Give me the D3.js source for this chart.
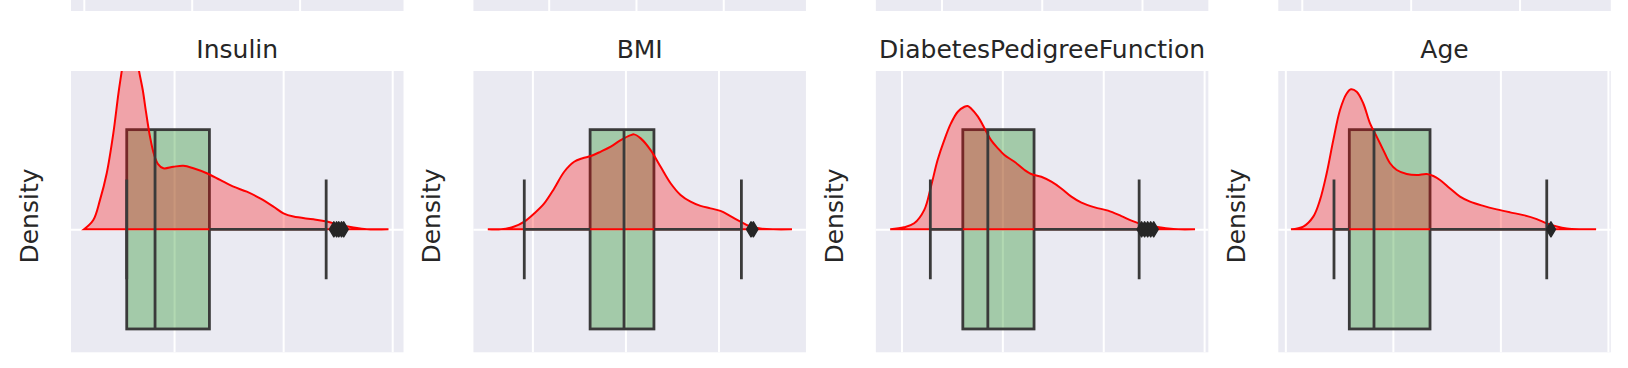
<!DOCTYPE html>
<html><head><meta charset="utf-8">
<script src="https://cdn.jsdelivr.net/npm/d3@7"></script>
<style>body{margin:0;background:#fff}svg{display:block}</style>
</head><body><svg id="c" width="1628" height="368"></svg>
<script>
// ---------- data ----------
const panelNames = ["Insulin", "BMI", "DiabetesPedigreeFunction", "Age"];
const xTicks = [[0, 2, 4], [-2, 0, 2], [0, 0.5, 1, 1.5], [20, 40, 60, 80]];
const xDomains = [[-1.89, 4.207], [-3.267, 3.88], [-0.127, 1.521], [18.69, 80.53]];
// previous (upper) row of subplots, only their bottom edge is visible
const topTicks = [[0, 5, 10], [50, 100, 150], [0, 50, 100], [0, 25, 50]];
const topDomains = [[-0.617, 14.79], [6.57, 197.1], [-33, 132.85], [-5.51, 70.83]];

// KDE curves: [value, density]
const kdeInsulin = [[-1.651,0],[-1.481,0.037],[-1.358,0.118],[-1.235,0.225],[-1.114,0.385],[-1.02,0.546],
 [-0.96,0.635],[-0.881,0.76],[-0.807,0.8],[-0.734,0.76],[-0.642,0.635],[-0.574,0.559],[-0.514,0.47],
 [-0.44,0.37],[-0.367,0.3],[-0.294,0.262],[-0.196,0.245],[-0.013,0.251],[0.171,0.255],[0.354,0.245],
 [0.6,0.225],[0.844,0.198],[1.089,0.171],[1.334,0.151],[1.578,0.124],[1.822,0.091],[2.006,0.064],
 [2.189,0.051],[2.556,0.04],[2.802,0.031],[3.046,0.017],[3.29,0.007],[3.536,0],[3.932,0]];
const kdeBMI = [[-2.958,0],[-2.673,0],[-2.388,0.011],[-2.174,0.031],[-1.959,0.064],[-1.745,0.104],
 [-1.531,0.164],[-1.316,0.231],[-1.102,0.271],[-0.922,0.285],[-0.744,0.294],[-0.529,0.312],[-0.315,0.332],
 [-0.101,0.358],[0.114,0.378],[0.184,0.381],[0.328,0.365],[0.542,0.318],[0.757,0.251],[0.971,0.185],
 [1.185,0.138],[1.4,0.111],[1.614,0.094],[1.829,0.084],[2.043,0.074],[2.257,0.053],[2.472,0.031],
 [2.686,0.011],[2.9,0.003],[3.186,0],[3.58,0]];
const kdeDPF = [[-0.056,0],[0.013,0.008],[0.063,0.024],[0.113,0.078],[0.146,0.171],[0.179,0.278],
 [0.212,0.358],[0.245,0.425],[0.279,0.472],[0.312,0.492],[0.328,0.495],[0.345,0.485],[0.379,0.452],
 [0.412,0.405],[0.444,0.358],[0.478,0.325],[0.51,0.298],[0.56,0.271],[0.61,0.238],[0.643,0.222],
 [0.693,0.211],[0.743,0.191],[0.792,0.164],[0.842,0.131],[0.892,0.107],[0.958,0.088],[1.024,0.075],
 [1.09,0.053],[1.14,0.035],[1.19,0.021],[1.256,0.011],[1.323,0.003],[1.372,0],[1.455,0]];
const kdeAge = [[21.05,0],[23.34,0.011],[25.2,0.051],[26.45,0.118],[27.69,0.225],[28.92,0.358],
 [30.17,0.479],[31.41,0.545],[32.21,0.562],[33.27,0.552],[34.5,0.505],[35.75,0.425],[36.99,0.372],
 [38.22,0.318],[39.47,0.265],[40.72,0.238],[42.58,0.222],[44.44,0.218],[46.3,0.222],[47.53,0.214],
 [48.77,0.198],[50.63,0.164],[52.49,0.131],[54.35,0.111],[56.83,0.094],[59.32,0.08],[61.8,0.068],
 [64.27,0.057],[66.76,0.041],[68.62,0.024],[70.48,0.011],[72.34,0.003],[74.82,0],[77.8,0]];
const kdes = [kdeInsulin, kdeBMI, kdeDPF, kdeAge];

// box statistics: [lowWhisker, q1, median, q3, highWhisker]
const boxInsulin = [-0.868, -0.868, -0.349, 0.648, 2.789];
const boxBMI = [-2.174, -0.759, -0.03, 0.613, 2.493];
const boxDPF = [0.143, 0.304, 0.428, 0.657, 1.178];
const boxAge = [29.05, 31.9, 36.49, 46.91, 68.62];
const boxes = [boxInsulin, boxBMI, boxDPF, boxAge];
const outliers = [[2.93, 2.98, 3.02, 3.07, 3.11], [2.7, 2.75], [1.19, 1.205, 1.22, 1.235, 1.25], [69.4]];

// ---------- layout ----------
const svg = d3.select("#c");
const axTop = 71, axBottom = 352.3, axW = 332.5, step = 402.43, firstLeft = 71;
const BG = "#eaeaf2", TXT = "#262626", EDGE = "#3a3a3a";
const y = d3.scaleLinear().domain([-0.4937, 0.6354]).range([axBottom, axTop]);
const boxHalf = 0.4, capHalf = 0.2;

panelNames.forEach((name, i) => {
  const left = firstLeft + i * step;
  // ---- upper row (bottom edge only) ----
  const xt = d3.scaleLinear().domain(topDomains[i]).range([left, left + axW]);
  svg.append("rect").attr("x", left).attr("y", -20).attr("width", axW).attr("height", 31).attr("fill", BG);
  svg.append("g").selectAll("line").data(topTicks[i]).join("line")
    .attr("x1", d => xt(d)).attr("x2", d => xt(d)).attr("y1", -20).attr("y2", 11)
    .attr("stroke", "#fff").attr("stroke-width", 2);

  // ---- this row ----
  const x = d3.scaleLinear().domain(xDomains[i]).range([left, left + axW]);
  const g = svg.append("g");
  const cid = "clip" + i;
  svg.append("clipPath").attr("id", cid).append("rect")
    .attr("x", left).attr("y", axTop).attr("width", axW).attr("height", axBottom - axTop);
  g.append("rect").attr("x", left).attr("y", axTop).attr("width", axW).attr("height", axBottom - axTop).attr("fill", BG);
  // grid
  g.append("g").call(d3.axisBottom(x).tickValues(xTicks[i]).tickSize(-(axBottom - axTop)).tickFormat(""))
    .attr("transform", `translate(0,${axBottom})`)
    .call(a => a.select(".domain").remove())
    .call(a => a.selectAll("line").attr("stroke", "#fff").attr("stroke-width", 2));
  g.append("g").call(d3.axisLeft(y).tickValues([0]).tickSize(-axW).tickFormat(""))
    .attr("transform", `translate(${left},0)`)
    .call(a => a.select(".domain").remove())
    .call(a => a.selectAll("line").attr("stroke", "#fff").attr("stroke-width", 2));

  const plot = g.append("g").attr("clip-path", `url(#${cid})`);
  const [lo, q1, med, q3, hi] = boxes[i];
  // box patch
  plot.append("rect").attr("x", x(q1)).attr("y", y(boxHalf)).attr("width", x(q3) - x(q1))
    .attr("height", y(-boxHalf) - y(boxHalf))
    .attr("fill", "rgba(0,128,0,0.3)").attr("stroke", EDGE).attr("stroke-width", 2.8);
  // kde
  const area = d3.area().x(d => x(d[0])).y0(y(0)).y1(d => y(d[1])).curve(d3.curveCatmullRom);
  plot.append("path").attr("d", area(kdes[i]))
    .attr("fill", "rgba(255,0,0,0.3)").attr("stroke", "#f00").attr("stroke-width", 2);
  // whiskers, caps, median
  const segs = [
    [x(lo), y(0), x(q1), y(0)], [x(q3), y(0), x(hi), y(0)],
    [x(lo), y(capHalf), x(lo), y(-capHalf)], [x(hi), y(capHalf), x(hi), y(-capHalf)],
    [x(med), y(boxHalf), x(med), y(-boxHalf)]
  ];
  plot.append("g").selectAll("line").data(segs).join("line")
    .attr("x1", d => d[0]).attr("y1", d => d[1]).attr("x2", d => d[2]).attr("y2", d => d[3])
    .attr("stroke", EDGE).attr("stroke-width", 2.8);
  // outliers (thin diamonds)
  plot.append("g").selectAll("path").data(outliers[i]).join("path")
    .attr("d", d => { const cx = x(d), cy = y(0); return `M${cx},${cy-7.5}L${cx+4.5},${cy}L${cx},${cy+7.5}L${cx-4.5},${cy}Z`; })
    .attr("fill", "#262626").attr("stroke", "#262626").attr("stroke-width", 1.5).attr("stroke-linejoin", "round");

  // title and label
  svg.append("text").attr("x", left + axW / 2).attr("y", 58).attr("text-anchor", "middle")
    .attr("font-family", "DejaVu Sans").attr("font-size", 25).attr("fill", TXT).text(name);
  svg.append("text").attr("transform", `translate(${left - 33},${216}) rotate(-90)`).attr("text-anchor", "middle")
    .attr("font-family", "DejaVu Sans").attr("font-size", 25).attr("fill", TXT).text("Density");
});
</script></body></html>
